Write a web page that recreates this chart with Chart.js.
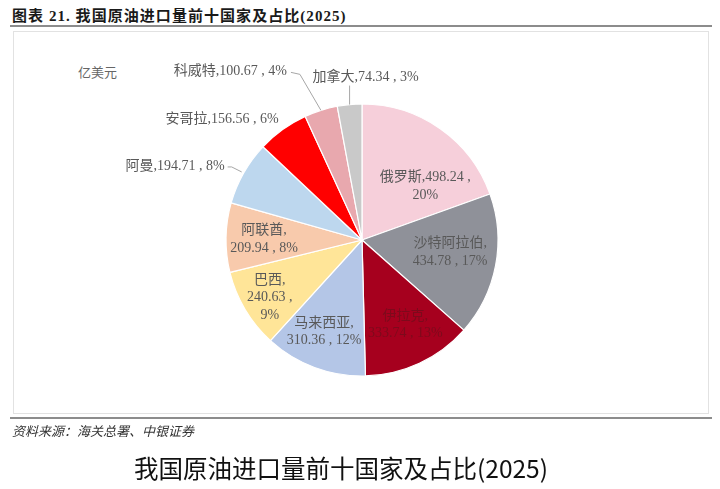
<!DOCTYPE html>
<html>
<head>
<meta charset="utf-8">
<script src="https://cdn.jsdelivr.net/npm/chart.js@4.4.1/dist/chart.umd.min.js"></script>
<style>
  html, body { margin: 0; padding: 0; background: #fff; }
  body { width: 720px; height: 489px; position: relative; overflow: hidden; font-family: "Liberation Serif", "Noto Sans CJK SC", serif; }
  #title { position: absolute; left: 12px; top: 4px; font-size: 15px; letter-spacing: 1.05px; font-weight: bold; color: #1a1a1a; white-space: nowrap; }
  .rule { position: absolute; left: 10px; width: 702px; height: 2px; background: #8c8c8c; }
  #box { position: absolute; left: 13px; top: 31px; width: 696px; height: 383px; border: 1.5px solid #e2e2e2; box-sizing: border-box; }
  #unit { position: absolute; left: 78px; top: 62px; font-size: 13px; color: #666; }
  #chart { position: absolute; left: 0; top: 0; }
  #source { position: absolute; left: 12px; top: 421px; font-size: 13px; font-style: italic; color: #333; white-space: nowrap; }
  #caption { position: absolute; left: 0; width: 682px; top: 450px; text-align: center; font-family: "Noto Sans CJK SC", sans-serif; font-size: 24.5px; color: #111; white-space: nowrap; }
</style>
</head>
<body>
<div id="title">图表 21. 我国原油进口量前十国家及占比(2025)</div>
<div class="rule" style="top:25px"></div>
<div id="box"></div>
<div id="unit">亿美元</div>
<canvas id="chart" width="720" height="489"></canvas>
<div class="rule" style="top:417px"></div>
<div id="source">资料来源：海关总署、中银证券</div>
<div id="caption">我国原油进口量前十国家及占比(2025)</div>

<script>
// ===== Data =====
const countries = ['俄罗斯', '沙特阿拉伯', '伊拉克', '马来西亚', '巴西', '阿联酋', '阿曼', '安哥拉', '科威特', '加拿大'];
const importValues = [498.24, 434.78, 333.74, 310.36, 240.63, 209.94, 194.71, 156.56, 100.67, 74.34];
const shares = [20, 17, 13, 12, 9, 8, 8, 6, 4, 3];

// ===== Styles =====
const sliceColors = ['#F6CFDA', '#8F9199', '#A6001E', '#B4C6E7', '#FFE598', '#F8CAAC', '#BDD7EE', '#FF0000', '#E8A8AE', '#C9C9C9'];
const labelFont = '14px "Liberation Serif", "Noto Sans CJK SC", serif';
const labelColor = '#595959';
const lineHeight = 17.5;

// how the 3 text parts (name, value, share) are grouped into lines
const lineBreaks = [[2, 1], [1, 2], [1, 2], [1, 2], [1, 1, 1], [1, 2], [3], [3], [3], [3]];

// inside labels: radius fraction + angle nudge (deg); outside labels: offset from slice edge
const labelLayout = [
  { inside: true, r: 0.61, nudge: 14.6 },
  { inside: true, r: 0.655, nudge: -2.8 },
  { inside: true, r: 0.70, nudge: -2.1, color: '#7d0a1c' },
  { inside: true, r: 0.73, nudge: 2 },
  { inside: true, r: 0.80, nudge: -1.3 },
  { inside: true, r: 0.72, nudge: -0.7 },
  { dx: -19, dy: -7, align: 'right', leader: [[-2, -1], [-12, -6], [-16, -6]] },
  { dx: -4, dy: -10, align: 'right' },
  { dx: -34, dy: -39, align: 'right', leader: [[0, 0], [-21, -36], [-30, -38]] },
  { dx: 16, dy: -27, align: 'center', leader: [[0, 0], [0, -19]] }
];

function buildLines(i) {
  const parts = [countries[i] + ',', importValues[i].toFixed(2) + ' ,', shares[i] + '%'];
  const joiners = ['', ' '];
  const lines = [];
  let k = 0;
  lineBreaks[i].forEach(n => {
    let s = parts[k];
    for (let j = 1; j < n; j++) s += joiners[k + j - 1] + parts[k + j];
    lines.push(s);
    k += n;
  });
  return lines;
}

// ===== Label plugin =====
const sliceLabels = {
  id: 'sliceLabels',
  afterDatasetsDraw(chart) {
    const ctx = chart.ctx;
    const meta = chart.getDatasetMeta(0);
    ctx.save();
    ctx.font = labelFont;
    ctx.textBaseline = 'middle';
    meta.data.forEach((arc, i) => {
      const p = arc.getProps(['x', 'y', 'startAngle', 'endAngle', 'outerRadius'], true);
      const mid = (p.startAngle + p.endAngle) / 2;
      const spec = labelLayout[i];
      const lines = buildLines(i);
      ctx.fillStyle = spec.color || labelColor;
      if (spec.inside) {
        const a = mid + spec.nudge * Math.PI / 180;
        const cx = p.x + Math.cos(a) * p.outerRadius * spec.r;
        const cy = p.y + Math.sin(a) * p.outerRadius * spec.r;
        const h = lineHeight * (lines.length - 1);
        ctx.textAlign = 'center';
        lines.forEach((t, k) => ctx.fillText(t, cx, cy - h / 2 + k * lineHeight));
      } else {
        const ex = p.x + Math.cos(mid) * p.outerRadius;
        const ey = p.y + Math.sin(mid) * p.outerRadius;
        if (spec.leader) {
          ctx.strokeStyle = '#a6a6a6';
          ctx.lineWidth = 1;
          ctx.beginPath();
          spec.leader.forEach(([lx, ly], k) => {
            if (k === 0) ctx.moveTo(ex + lx, ey + ly);
            else ctx.lineTo(ex + lx, ey + ly);
          });
          ctx.stroke();
        }
        ctx.textAlign = spec.align;
        ctx.fillText(lines[0], ex + spec.dx, ey + spec.dy);
      }
    });
    ctx.restore();
  }
};

// ===== Chart =====
const ctx = document.getElementById('chart').getContext('2d');
new Chart(ctx, {
  type: 'pie',
  data: {
    labels: countries,
    datasets: [{
      data: importValues,
      backgroundColor: sliceColors,
      borderColor: '#ffffff',
      borderWidth: 1.2
    }]
  },
  options: {
    responsive: false,
    animation: false,
    radius: 136,
    layout: { padding: { left: 226, right: 222, top: 104, bottom: 113 } },
    plugins: {
      legend: { display: false },
      tooltip: { enabled: false }
    }
  },
  plugins: [sliceLabels]
});
</script>
</body>
</html>
